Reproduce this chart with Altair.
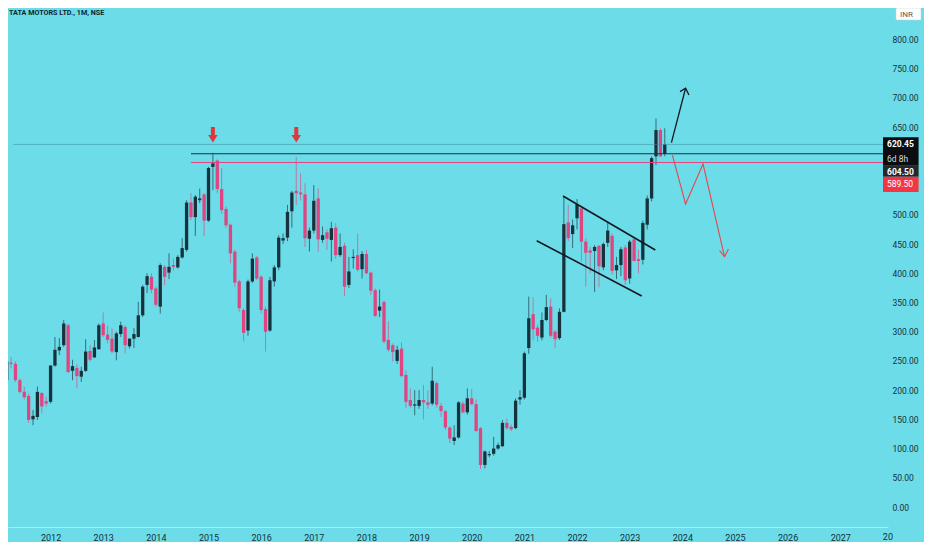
import altair as alt
import pandas as pd

# ---------------- data (monthly candles, Mar 2011 .. Sep 2023) ----------------
start_year = 2011
start_month = 3
opens = [217, 247, 245, 217, 197, 190, 150, 154, 195, 181,
         180, 242, 268, 277, 311, 233, 238, 223, 233, 267,
         256, 270, 314, 295, 288, 265, 296, 308, 275, 288,
         291, 328, 380, 394, 374, 343, 411, 401, 414, 410,
         427, 440, 521, 496, 525, 535, 490, 582, 593, 544,
         510, 483, 437, 386, 337, 302, 386, 427, 394, 339,
         302, 386, 410, 456, 461, 506, 541, 538, 535, 459,
         473, 528, 457, 470, 457, 478, 431, 447, 380, 426,
         431, 407, 433, 401, 371, 336, 351, 286, 277, 250,
         271, 226, 183, 174, 173, 183, 179, 177, 212, 173,
         164, 136, 113, 119, 177, 162, 186, 176, 135, 72,
         89, 91, 100, 104, 144, 137, 135, 184, 187, 272,
         330, 307, 290, 320, 343, 300, 289, 334, 487, 467,
         494, 511, 454, 439, 438, 447, 410, 452, 464, 405,
         414, 444, 391, 458, 424, 423, 483, 528, 600, 645,
         604]
highs = [252, 257, 249, 220, 206, 194, 166, 206, 197, 189,
         243, 291, 289, 320, 314, 252, 244, 240, 287, 277,
         286, 314, 333, 310, 306, 300, 317, 311, 289, 306,
         351, 380, 400, 400, 377, 417, 414, 434, 425, 431,
         460, 525, 537, 534, 545, 537, 582, 606, 595, 580,
         514, 485, 440, 389, 340, 389, 434, 430, 397, 343,
         394, 414, 465, 468, 517, 541, 599, 571, 554, 478,
         551, 545, 480, 475, 488, 486, 468, 452, 428, 441,
         468, 438, 440, 403, 374, 372, 353, 317, 280, 276,
         282, 234, 203, 200, 200, 209, 200, 240, 215, 178,
         166, 138, 140, 181, 181, 203, 202, 184, 137, 97,
         96, 120, 110, 149, 151, 141, 186, 200, 266, 360,
         359, 312, 333, 363, 357, 303, 340, 531, 517, 492,
         527, 513, 460, 445, 448, 448, 453, 488, 468, 428,
         445, 448, 457, 462, 440, 490, 533, 600, 665, 648,
         648]
lows = [215, 237, 214, 194, 184, 144, 140, 149, 160, 172,
        177, 240, 260, 274, 229, 217, 203, 214, 231, 249,
        255, 269, 291, 280, 263, 251, 291, 263, 271, 272,
        290, 325, 366, 366, 343, 331, 380, 390, 405, 408,
        425, 437, 491, 464, 520, 464, 488, 542, 537, 502,
        478, 417, 377, 334, 283, 293, 383, 388, 331, 266,
        300, 377, 405, 450, 455, 478, 517, 525, 445, 437,
        468, 437, 452, 440, 420, 425, 428, 361, 375, 408,
        403, 391, 398, 363, 325, 325, 280, 266, 249, 245,
        222, 169, 170, 157, 168, 150, 168, 174, 170, 154,
        132, 109, 106, 117, 160, 158, 174, 128, 65, 66,
        85, 88, 98, 103, 132, 130, 133, 175, 184, 262,
        285, 283, 285, 318, 290, 272, 286, 333, 455, 443,
        475, 420, 377, 400, 368, 376, 405, 445, 398, 390,
        395, 380, 382, 420, 400, 415, 475, 523, 585, 599,
        600]
closes = [249, 245, 217, 197, 188, 149, 156, 197, 172, 177,
          242, 269, 274, 314, 231, 241, 224, 233, 266, 252,
          273, 311, 294, 286, 266, 297, 311, 277, 288, 296,
          328, 377, 395, 372, 346, 414, 394, 411, 411, 428,
          443, 521, 496, 531, 528, 490, 580, 588, 544, 508,
          482, 434, 384, 340, 298, 386, 425, 391, 337, 300,
          388, 410, 461, 460, 505, 538, 537, 535, 460, 473,
          524, 458, 465, 459, 477, 431, 445, 377, 403, 428,
          406, 433, 400, 370, 327, 343, 283, 269, 265, 269,
          224, 180, 173, 175, 183, 179, 175, 216, 175, 164,
          136, 117, 119, 179, 162, 186, 176, 130, 72, 95,
          90, 100, 106, 144, 135, 133, 182, 188, 263, 323,
          304, 293, 320, 342, 293, 287, 334, 484, 460, 482,
          518, 454, 435, 435, 445, 412, 450, 473, 404, 414,
          441, 388, 454, 421, 421, 486, 528, 597, 645, 600,
          620.45]

year_ticks = list(range(2012, 2028))
# 550 and 600 sit behind the price tags on the scale
price_ticks = [0, 50, 100, 150, 200, 250, 300, 350, 400, 450, 500, 650, 700, 750, 800]
cut_year_label = "20"
cut_year = 2028
title_text = "TATA MOTORS LTD., 1M, NSE"
currency_text = "INR"

# resistance levels and last price
last_price = 620.45
black_level = 604.50
red_level = 589.50
level_start = 2014.667

# peaks marked by arrows (months since Jan 2012)
peak_months = [37, 56]
peak_arrow_price = 637

# drawn channel / projection lines: (segment, t, price)
black_seg = ["ch_up", "ch_up", "ch_lo", "ch_lo",
             "shaft", "shaft", "head", "head", "head"]
black_t = [2021.733, 2023.487, 2021.234, 2023.230,
           2023.793, 2024.062, 2023.957, 2024.062, 2024.126]
black_v = [532.2, 439.8, 455.7, 361.0,
           623.4, 716.5, 710.7, 716.5, 705.0]
black_w = [1.6, 1.6, 1.6, 1.6, 1.3, 1.3, 1.3, 1.3, 1.3]

red_seg = ["zig", "zig", "zig", "zig", "head", "head", "head"]
red_t = [2023.812, 2024.062, 2024.394, 2024.802, 2024.708, 2024.802, 2024.877]
red_v = [602.3, 518.5, 586.9, 428.3, 438.6, 428.3, 441.5]

# ---------------- styling ----------------
BG = "#6cdde8"
DARK = "#17323d"
PINK = "#df4580"
RED = "#e5474f"
TXT = "#15303b"
FONT = "Roboto"

W, H = 880, 519
X_SCALE = alt.Scale(domain=[2011.2864, 2027.812], nice=False, zero=False)
Y_SCALE = alt.Scale(domain=[-34.22, 853.87], nice=False, zero=False)
BOX_T0 = 2027.812
BOX_T1 = 2028.488

X_AXIS = alt.Axis(values=year_ticks, format="d", title=None, ticks=False, grid=False,
                  domainColor="#a4eef4", domainWidth=1, labelPadding=6,
                  labelFont=FONT, labelFontSize=9, labelColor=TXT, labelFlush=False,
                  labelOverlap=False)
Y_AXIS = alt.Axis(orient="right", values=price_ticks, format=".2f", title=None,
                  ticks=False, grid=False, domain=False, labelPadding=4,
                  labelAlign="left", labelFont=FONT, labelFontSize=8.5,
                  labelColor=TXT, labelOverlap=False)


def X(field):
    return alt.X(field, type="quantitative", scale=X_SCALE, axis=X_AXIS)


def Y(field):
    return alt.Y(field, type="quantitative", scale=Y_SCALE, axis=Y_AXIS)


# ---------------- tables ----------------
n = len(opens)
t = [start_year + (start_month - 1 + i) / 12 for i in range(n)]
rows = []
for i in range(n):
    o, h, l, c = opens[i], highs[i], lows[i], closes[i]
    top, bot = max(o, c), min(o, c)
    if top - bot < 2:
        mid = (top + bot) / 2
        top, bot = mid + 1, mid - 1
    rows.append({"t": t[i], "open": o, "high": h, "low": l, "close": c,
                 "btop": top, "bbot": bot,
                 "dir": "up" if c >= o else "down"})
candles = pd.DataFrame(rows)

color_enc = alt.Color("dir:N", scale=alt.Scale(domain=["up", "down"], range=[DARK, PINK]), legend=None)

wicks = alt.Chart(candles).mark_rule(strokeWidth=1, opacity=0.65).encode(
    x=X("t"), y=Y("low"), y2="high", color=color_enc)
bodies = alt.Chart(candles).mark_bar(size=3.3).encode(
    x=X("t"), y=Y("bbot"), y2="btop", color=color_enc)

# horizontal levels
price_line = alt.Chart(pd.DataFrame({"t0": [X_SCALE.domain[0]], "t1": [BOX_T0], "v": [last_price]})).mark_rule(
    color="#3f8f9c", strokeWidth=0.8, opacity=0.7).encode(
    x=X("t0"), x2="t1", y=Y("v"))
levels_df = pd.DataFrame({"t0": [level_start, level_start], "t1": [BOX_T0, BOX_T0],
                          "v": [black_level, red_level], "k": ["black", "red"]})
levels = alt.Chart(levels_df).mark_rule(strokeWidth=1.1).encode(
    x=X("t0"), x2="t1", y=Y("v"),
    color=alt.Color("k:N", scale=alt.Scale(domain=["black", "red"], range=["#1a2630", RED]), legend=None))

# drawn lines
bl_df = pd.DataFrame({"seg": black_seg, "t": black_t, "v": black_v, "w": black_w,
                      "o": list(range(len(black_t)))})
black_lines = alt.Chart(bl_df).mark_line(color="#111a22").encode(
    x=X("t"), y=Y("v"), detail="seg:N", order="o:Q",
    strokeWidth=alt.StrokeWidth("w:Q", scale=None))
rl_df = pd.DataFrame({"seg": red_seg, "t": red_t, "v": red_v, "o": list(range(len(red_t)))})
red_lines = alt.Chart(rl_df).mark_line(color=RED, strokeWidth=1.1).encode(
    x=X("t"), y=Y("v"), detail="seg:N", order="o:Q")

# red down arrows over the two peaks
arrow_path = "M-0.26,-1L0.26,-1L0.26,0.05L0.62,0.05L0,1L-0.62,0.05L-0.26,0.05Z"
arrows_df = pd.DataFrame({"t": [2012 + m / 12 for m in peak_months], "v": [peak_arrow_price] * 2})
arrows = alt.Chart(arrows_df).mark_point(shape=arrow_path, size=235, filled=True,
                                         fill="#e3353c", strokeWidth=0, opacity=1).encode(
    x=X("t"), y=Y("v"))


# price tags on the right scale
def price_box(price, off_top, off_bot, fill):
    d = pd.DataFrame({"t0": [BOX_T0], "t1": [BOX_T1], "v": [price]})
    return alt.Chart(d).mark_rect(fill=fill, yOffset=off_top, y2Offset=off_bot).encode(
        x=X("t0"), x2="t1", y=Y("v"), y2="v")


def price_text(price, label, dy, color, weight="normal"):
    d = pd.DataFrame({"t0": [BOX_T0], "v": [price], "s": [label]})
    return alt.Chart(d).mark_text(align="left", baseline="middle", dx=4, dy=dy,
                                  font=FONT, fontSize=8.5, color=color, fontWeight=weight).encode(
        x=X("t0"), y=Y("v"), text="s:N")


boxes = [
    price_box(last_price, -7.1, 21.3, "#0b0d10"),
    price_box(black_level, 12.0, 23.0, "#24272c"),
    price_box(red_level, 14.2, 29.5, "#f23645"),
    price_text(last_price, "620.45", -0.4, "#ffffff", "bold"),
    price_text(last_price, "6d 8h", 14.1, "#d6d6d6"),
    price_text(black_level, "604.50", 17.8, "#ffffff", "bold"),
    price_text(red_level, "589.50", 22.0, "#ffffff"),
]

# clipped year label at the right edge
cut_label = alt.Chart(pd.DataFrame({"t": [cut_year], "s": [cut_year_label]})).mark_text(
    font=FONT, fontSize=9, color=TXT, dx=-5, baseline="top").encode(
    x=X("t"), y=alt.value(H + 6), text="s:N")

# header text and currency box
title = alt.Chart(pd.DataFrame({"s": [title_text]})).mark_text(
    align="left", baseline="middle", font=FONT, fontSize=7.2, fontWeight="bold", color="#14242c").encode(
    x=alt.value(1), y=alt.value(4.5), text="s:N")
inr_box = alt.Chart(pd.DataFrame({"a": [0]})).mark_rect(
    fill="#ffffff", stroke="#c9d3d6", strokeWidth=0.6, cornerRadius=1).encode(
    x=alt.value(888), x2=alt.value(913), y=alt.value(0), y2=alt.value(12))
inr_text = alt.Chart(pd.DataFrame({"s": [currency_text]})).mark_text(
    align="left", baseline="middle", font=FONT, fontSize=8, color="#555b60").encode(
    x=alt.value(892), y=alt.value(6.5), text="s:N")

chart = alt.layer(
    wicks, bodies, price_line, levels, black_lines, red_lines, arrows,
    *boxes, cut_label, title, inr_box, inr_text
).properties(
    width=W, height=H,
    background=BG,
    padding={"left": 0, "top": 0, "right": 916 - W, "bottom": 534 - H},
    autosize=alt.AutoSizeParams(type="none"),
).configure_view(stroke=None, fill=BG)

chart.save("out.html", embed_options={"renderer": "svg", "actions": False})
